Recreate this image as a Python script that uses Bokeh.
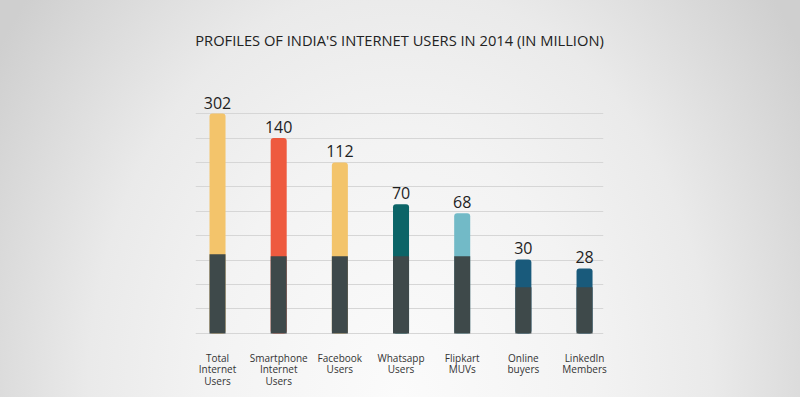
from bokeh.plotting import figure
from bokeh.models import Range1d, FixedTicker, Grid, ColumnDataSource, Title
from bokeh.core.properties import value
from bokeh.embed import file_html
from bokeh.resources import INLINE

# ---- data ----
categories = ["Total\nInternet\nUsers", "Smartphone\nInternet\nUsers", "Facebook\nUsers",
              "Whatsapp\nUsers", "Flipkart\nMUVs", "Online\nbuyers", "LinkedIn\nMembers"]
values = [302, 140, 112, 70, 68, 30, 28]
# bar heights as drawn in the infographic (in gridline units)
bar_tops = [9.0, 8.0, 7.0, 5.29, 4.92, 3.03, 2.66]
base_tops = [3.24, 3.16, 3.16, 3.16, 3.16, 1.89, 1.89]
bar_colors = ["#F3C46B", "#EE5A3F", "#F3C46B", "#0B6467", "#72BAC7", "#195A7B", "#195A7B"]
base_color = "#3E494A"
grid_ticks = [0, 1, 2, 3, 4, 5, 6, 7, 8, 9]

xs = list(range(len(categories)))
src = ColumnDataSource(dict(x=xs, top=bar_tops, base=base_tops, color=bar_colors,
                            label=[str(v) for v in values]))

p = figure(width=800, height=397, output_backend="svg", toolbar_location=None,
           x_range=Range1d(-0.36, 6.31), y_range=Range1d(-0.25, 10.6),
           min_border_left=195, min_border_right=197, min_border_bottom=58,
           min_border_top=74, y_axis_location=None)

p.styles = {"background": "radial-gradient(ellipse 60% 160% at 50% 100%, #fbfbfb 0%, #f3f3f3 40%, #eaeaea 65%, #cfcfcf 100%)"}
p.border_fill_color = None
p.background_fill_color = None
p.outline_line_color = None

p.xgrid.visible = False
p.ygrid.visible = False
p.add_layout(Grid(dimension=1, ticker=FixedTicker(ticks=grid_ticks),
                  grid_line_color="#d6d6d6", grid_line_width=1))

p.vbar(x="x", top="top", bottom=0, width=0.262, fill_color="color", line_color=None,
       border_radius=3, source=src)
p.vbar(x="x", top="base", bottom=0, width=0.262, fill_color=base_color, line_color=None,
       source=src)

p.text(x="x", y="top", text="label", text_align="center", text_baseline="alphabetic",
       y_offset=-11, text_font=value("Open Sans"), text_font_size="16px",
       text_color="#1e1e1e", source=src)

xa = p.xaxis[0]
xa.ticker = FixedTicker(ticks=xs)
xa.major_label_overrides = {i: c for i, c in zip(xs, categories)}
xa.axis_line_color = None
xa.major_tick_line_color = None
xa.minor_tick_line_color = None
xa.major_label_standoff = 5
xa.major_label_text_font = "Open Sans"
xa.major_label_text_font_size = "10px"
xa.major_label_text_line_height = 0.85
xa.major_label_text_color = "#333333"

t = Title(text="PROFILES OF INDIA'S INTERNET USERS IN 2014 (IN MILLION)", align="center",
          vertical_align="top",
          text_font="Open Sans", text_font_size="14.7px", text_font_style="normal",
          text_color="#222222", standoff=46)
p.add_layout(t, "above")

open("out.html", "w").write(file_html(p, INLINE))
